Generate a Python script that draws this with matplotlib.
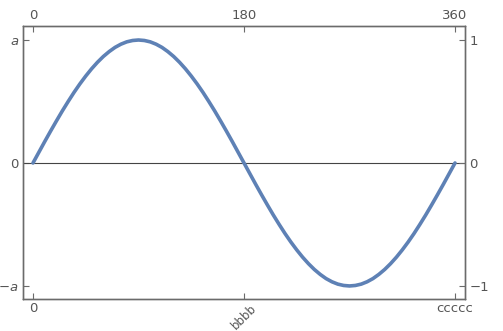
import matplotlib
matplotlib.use('Agg')
import matplotlib.pyplot as plt
import numpy as np

# Curve, one point every 5 degrees.
angle_deg = list(range(0, 361, 5))
curve_y = [0.0, 0.087, 0.174, 0.259, 0.342, 0.423, 0.5, 0.574, 0.643, 0.707,
           0.766, 0.819, 0.866, 0.906, 0.94, 0.966, 0.985, 0.996, 1.0,
           0.996, 0.985, 0.966, 0.94, 0.906, 0.866, 0.819, 0.766, 0.707,
           0.643, 0.574, 0.5, 0.423, 0.342, 0.259, 0.174, 0.087, 0.0,
           -0.087, -0.174, -0.259, -0.342, -0.423, -0.5, -0.574, -0.643, -0.707,
           -0.766, -0.819, -0.866, -0.906, -0.94, -0.966, -0.985, -0.996, -1.0,
           -0.996, -0.985, -0.966, -0.94, -0.906, -0.866, -0.819, -0.766, -0.707,
           -0.643, -0.574, -0.5, -0.423, -0.342, -0.259, -0.174, -0.087, 0.0]

bottom_ticks = [0, np.pi, 2 * np.pi]
bottom_labels = ['0', 'bbbb', 'ccccc']
top_ticks = [0, 180, 360]
left_ticks = [1, 0, -1]
left_labels = ['$a$', '0', '$-a$']
right_ticks = [1, 0, -1]
right_labels = ['1', '0', '\u22121']

grey = '#555555'
frame = '#6b6b6b'

fig = plt.figure(figsize=(5.03, 3.31), dpi=100)
ax = fig.add_axes([0.0457, 0.0967, 0.8788, 0.8248])

x = np.radians(angle_deg)
ax.plot(x, curve_y, color='#5e81b5', lw=2.6, solid_capstyle='round', zorder=3)
ax.axhline(0, color='#444444', lw=0.8, zorder=2)

ax.set_xlim(-0.149, 2 * np.pi + 0.149)
ax.set_ylim(-1.106, 1.114)

ax.set_xticks(bottom_ticks)
ax.set_xticklabels(bottom_labels)
ax.set_yticks(left_ticks)
ax.set_yticklabels(left_labels)

ax_top = ax.twiny()
ax_top.set_xlim(np.degrees(-0.149), np.degrees(2 * np.pi + 0.149))
ax_top.set_xticks(top_ticks)
ax_right = ax.twinx()
ax_right.set_ylim(-1.106, 1.114)
ax_right.set_yticks(right_ticks)
ax_right.set_yticklabels(right_labels)

for a in (ax, ax_top, ax_right):
    a.tick_params(direction='in', length=4, width=0.8, color=frame,
                  labelcolor=grey, labelsize=9.5, pad=3)
    for s in a.spines.values():
        s.set_color(frame)
        s.set_linewidth(0.9)
ax.tick_params(axis='x', pad=2)

# the middle label is tilted and a bit smaller so it stays on the canvas
lab = ax.get_xticklabels()[1]
lab.set_rotation(45)
lab.set_ha('center')
lab.set_va('top')
lab.set_fontsize(8.5)

fig.savefig('out.png', dpi=100)
